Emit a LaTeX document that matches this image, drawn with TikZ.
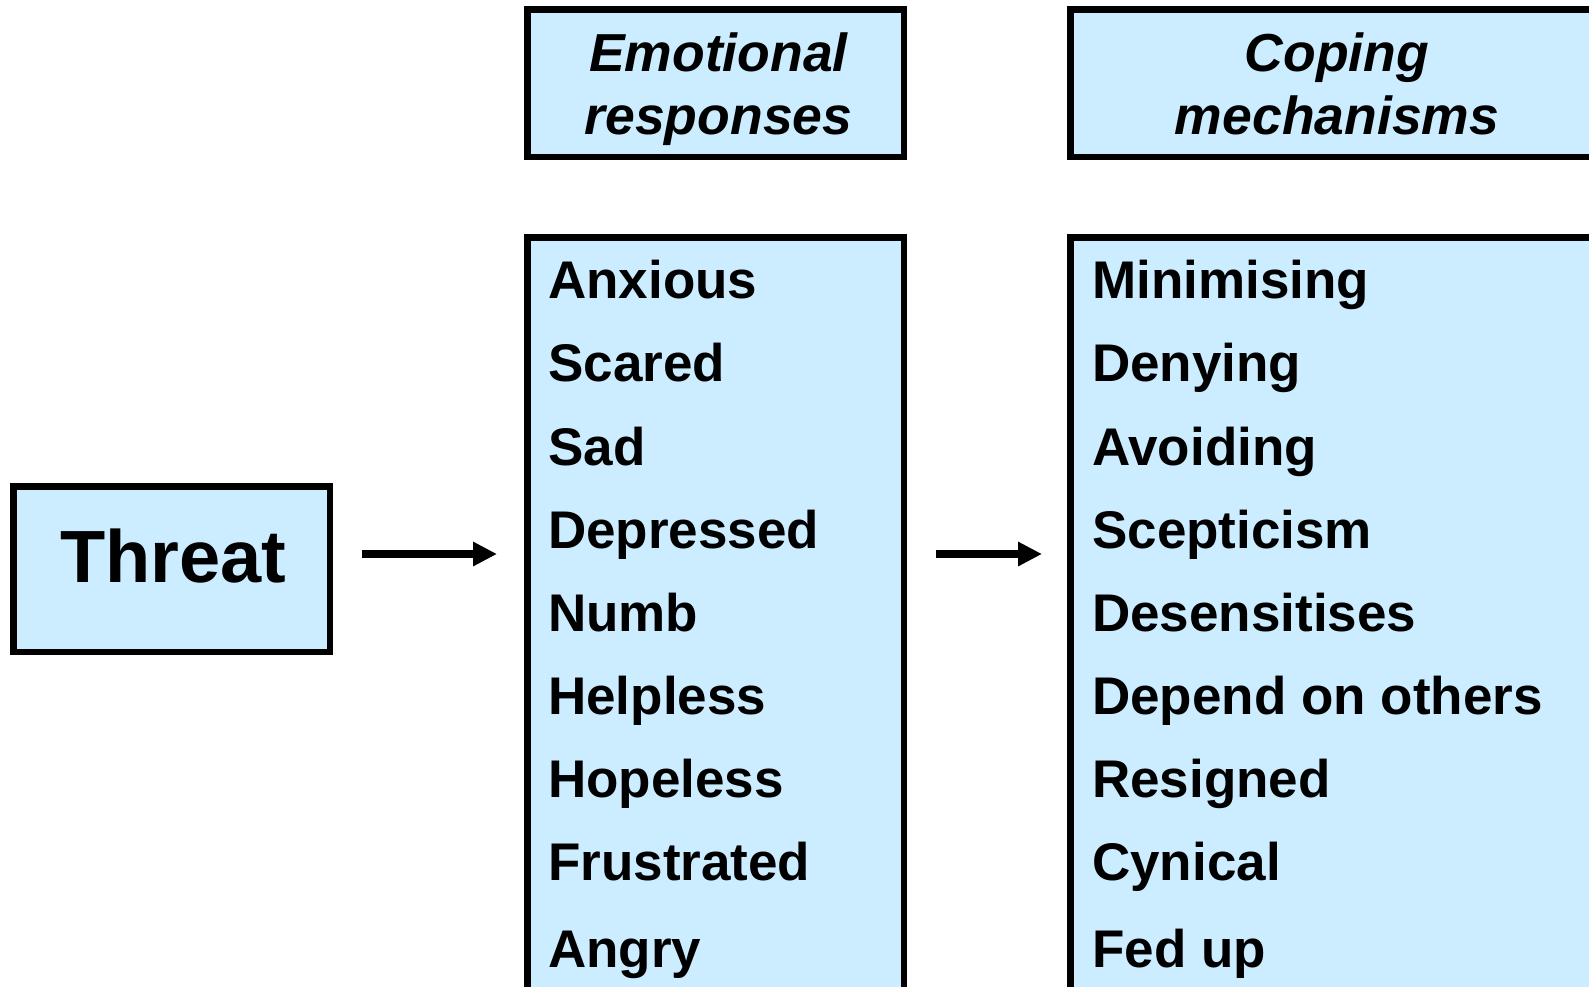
\documentclass[tikz,border=0pt]{standalone}
\usepackage{fontspec}
\setmainfont{Liberation Sans}
\usetikzlibrary{arrows.meta}
\definecolor{boxblue}{RGB}{204,236,255}
\tikzset{
  box/.style={draw=black, fill=boxblue, line width=6.5pt, inner sep=0pt},
  item/.style={anchor=base west, inner sep=0pt, font=\fontsize{53}{63}\selectfont\bfseries},
  hdrtext/.style={anchor=north, inner sep=0pt, align=center, font=\fontsize{53.5}{63}\selectfont\bfseries\itshape},
  arr/.style={line width=7.5pt, -{Triangle[length=24pt, width=23pt]}}
}
\begin{document}
\begin{tikzpicture}[x=1pt, y=-1pt]
\useasboundingbox (0,0) rectangle (1589,986);
\clip (0,0) rectangle (1589,986);
\fill[white] (0,0) rectangle (1589,986);
% boxes
\node[box, minimum width=316.5pt, minimum height=165.5pt] (threat) at (171.5,569) {};
\node[box, minimum width=376.5pt, minimum height=147.5pt] (h1) at (715.5,83) {};
\node[box, minimum width=526.5pt, minimum height=147.5pt] (h2) at (1333.5,83) {};
\node[box, minimum width=376.5pt, minimum height=759.5pt] (list1) at (715.5,617) {};
\node[box, minimum width=526.5pt, minimum height=759.5pt] (list2) at (1333.5,617) {};
% texts
\node[anchor=base, inner sep=0pt, font=\fontsize{74}{80}\selectfont\bfseries] (threattext) at (173.5,582) {Threat};
\node[hdrtext] (h1text) at (718.5,33) {Emotional\\responses};
\node[hdrtext] (h2text) at (1337,33) {Coping\\mechanisms};
\node[item] (e1) at (548,298) {Anxious};
\node[item] (e2) at (548,381.5) {Scared};
\node[item] (e3) at (548,465) {Sad};
\node[item] (e4) at (548,548) {Depressed};
\node[item] (e5) at (548,631) {Numb};
\node[item] (e6) at (548,714) {Helpless};
\node[item] (e7) at (548,797) {Hopeless};
\node[item] (e8) at (548,880) {Frustrated};
\node[item] (e9) at (548,967) {Angry};
\node[item] (c1) at (1092,298) {Minimising};
\node[item] (c2) at (1092,381.5) {Denying};
\node[item] (c3) at (1092,465) {Avoiding};
\node[item] (c4) at (1092,548) {Scepticism};
\node[item] (c5) at (1092,631) {Desensitises};
\node[item] (c6) at (1092,714) {Depend on others};
\node[item] (c7) at (1092,797) {Resigned};
\node[item] (c8) at (1092,880) {Cynical};
\node[item] (c9) at (1092,967) {Fed up};
% arrows
\draw[arr, shorten <=29pt, shorten >=27pt] (threat.east |- 0,554) -- (list1.west |- 0,554);
\draw[arr, shorten <=29pt, shorten >=25pt] (list1.east |- 0,554) -- (list2.west |- 0,554);
\end{tikzpicture}
\end{document}
